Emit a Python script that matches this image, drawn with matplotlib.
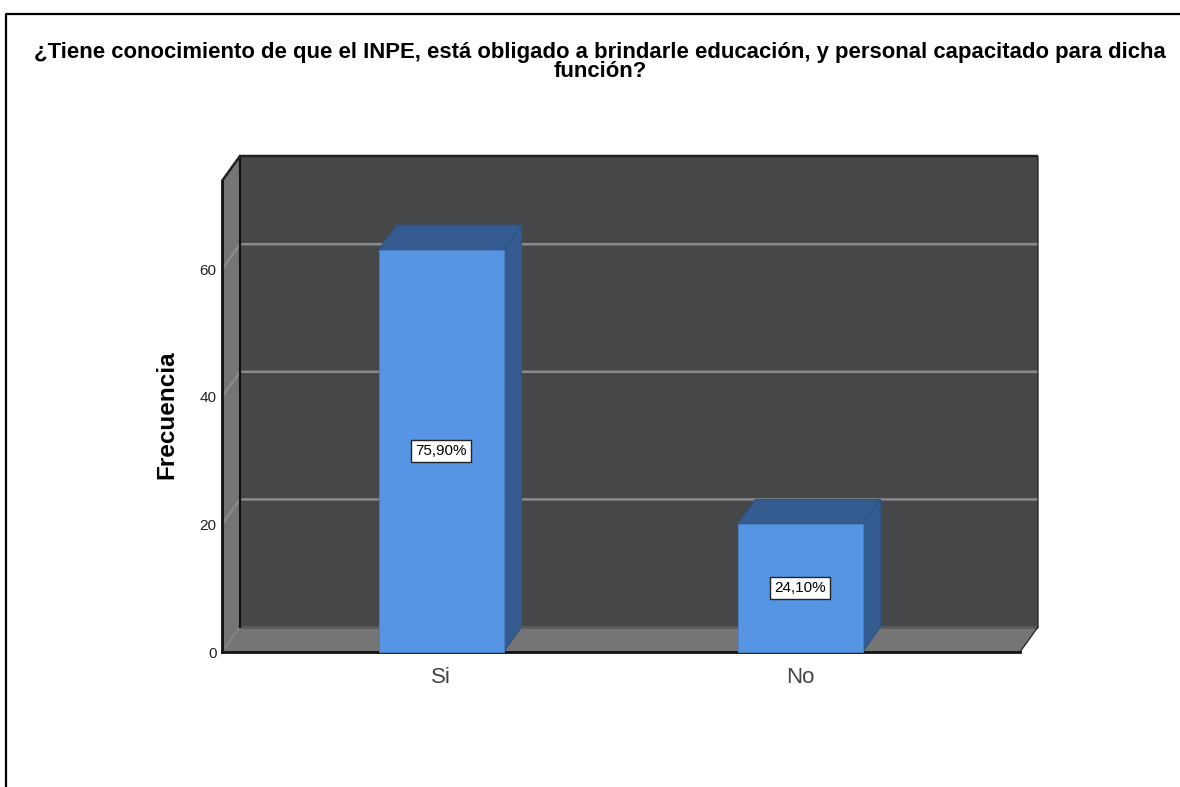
import matplotlib
matplotlib.use("Agg")
import matplotlib.pyplot as plt
from matplotlib.lines import Line2D
from matplotlib.patches import Polygon

plt.rcParams["font.family"] = ["Liberation Sans", "DejaVu Sans"]

title = "¿Tiene conocimiento de que el INPE, está obligado a brindarle educación, y personal capacitado para dicha\nfunción?"
categories = ["Si", "No"]
counts = [63, 20]
percent_labels = ["75,90%", "24,10%"]
y_ticks = [0, 20, 40, 60]

W, H = 1180, 787
PX_PER_CAT = 359.0
PX_PER_UNIT = 6.38
DEPTH_X = 18 / PX_PER_CAT
DEPTH_Y = 25 / PX_PER_UNIT
BAR_W = 125 / PX_PER_CAT

WALL = "#464749"
SIDE = "#757575"
GRID = "#8a8a8a"
BAR = "#5595e4"
BAR_DARK = "#345c90"

fig = plt.figure(figsize=(W / 100, H / 100), dpi=100, facecolor="white")
ax = fig.add_axes([222 / W, (H - 652) / H, 798 / W, 471 / H])
ax.set_xlim((222 - 441) / PX_PER_CAT, (1020 - 441) / PX_PER_CAT)
ax.set_ylim(0, 471 / PX_PER_UNIT)
ax.patch.set_visible(False)
for s in ax.spines.values():
    s.set_visible(False)

x0, x1 = ax.get_xlim()
y0, y1 = ax.get_ylim()
dx, dy = DEPTH_X, DEPTH_Y


def poly(points, face, edge="none", lw=0, z=1):
    ax.add_patch(Polygon(points, closed=True, facecolor=face, edgecolor=edge,
                         linewidth=lw, zorder=z, clip_on=False))


# back wall, left wall and floor
poly([(x0 + dx, y0 + dy), (x1 + dx, y0 + dy), (x1 + dx, y1 + dy), (x0 + dx, y1 + dy)], WALL)
poly([(x0, y0), (x0 + dx, y0 + dy), (x0 + dx, y1 + dy), (x0, y1)], SIDE)
poly([(x0, y0), (x1, y0), (x1 + dx, y0 + dy), (x0 + dx, y0 + dy)], SIDE)

# gridlines run along the side wall and then the back wall
for t in y_ticks[1:]:
    ax.plot([x0, x0 + dx, x1 + dx], [t, t + dy, t + dy], color=GRID, lw=1.8,
            zorder=2, clip_on=False, solid_joinstyle="miter", solid_capstyle="butt")
ax.plot([x0, x0 + dx], [0, dy], color=GRID, lw=0.8, zorder=2, clip_on=False)
ax.plot([x0 + dx, x1 + dx], [dy, dy], color="#5c5c5c", lw=2, zorder=2, clip_on=False,
        solid_capstyle="butt")

# dark outline of the box
ax.plot([x0 + dx, x0 + dx], [dy, y1 + dy], color="#111111", lw=1.6, zorder=3, clip_on=False)
ax.plot([x0, x0 + dx, x1 + dx], [y1, y1 + dy, y1 + dy], color="#222222", lw=1.8,
        zorder=3, clip_on=False, solid_capstyle="butt")
ax.plot([x1 + dx, x1 + dx, x1], [y1 + dy, dy, 0], color="#222222", lw=0.9, zorder=3,
        clip_on=False, solid_capstyle="butt")
ax.plot([x0, x0], [0, y1], color="#111111", lw=2, zorder=3, clip_on=False)
ax.plot([x0, x1], [0, 0], color="#111111", lw=2, zorder=3, clip_on=False)

# bars with side and top faces
xs = list(range(len(categories)))
for x, v in zip(xs, counts):
    l, r = x - BAR_W / 2, x + BAR_W / 2
    poly([(r, 0), (r + dx, dy), (r + dx, v + dy), (r, v)], BAR_DARK, "#2f5382", 0.8, 4)
    poly([(l, v), (r, v), (r + dx, v + dy), (l + dx, v + dy)], BAR_DARK, "#2f5382", 0.8, 4)
ax.bar(xs, counts, width=BAR_W, color=BAR, edgecolor="#4a80c4", linewidth=0.6, zorder=5,
       clip_on=False)

for x, v, lab in zip(xs, counts, percent_labels):
    ax.text(x, v / 2, lab, ha="center", va="center", fontsize=11, color="black", zorder=6,
            bbox=dict(boxstyle="square,pad=0.27", facecolor="white", edgecolor="#222222", linewidth=1))

ax.set_xticks(xs)
ax.set_xticklabels(categories, fontsize=16, color="#444444")
ax.set_yticks(y_ticks)
ax.set_yticklabels([str(t) for t in y_ticks], fontsize=11, color="#222222")
ax.tick_params(axis="both", length=0)
ax.tick_params(axis="x", pad=11)
ax.tick_params(axis="y", pad=4)

fig.text(600 / W, 1 - 62 / H, title, ha="center", va="center", fontsize=15.9,
         fontweight="bold", linespacing=0.88, color="black")
fig.text(167 / W, 1 - 415 / H, "Frecuencia", rotation=90, ha="center", va="center",
         fontsize=17.5, fontweight="bold", color="black")

# outer frame of the exported picture
fig.add_artist(Line2D([5.5 / W, 5.5 / W, 1], [0, 1 - 13.5 / H, 1 - 13.5 / H], color="black", lw=1.6))

fig.savefig("out.png", dpi=100, facecolor="white")
plt.close()
